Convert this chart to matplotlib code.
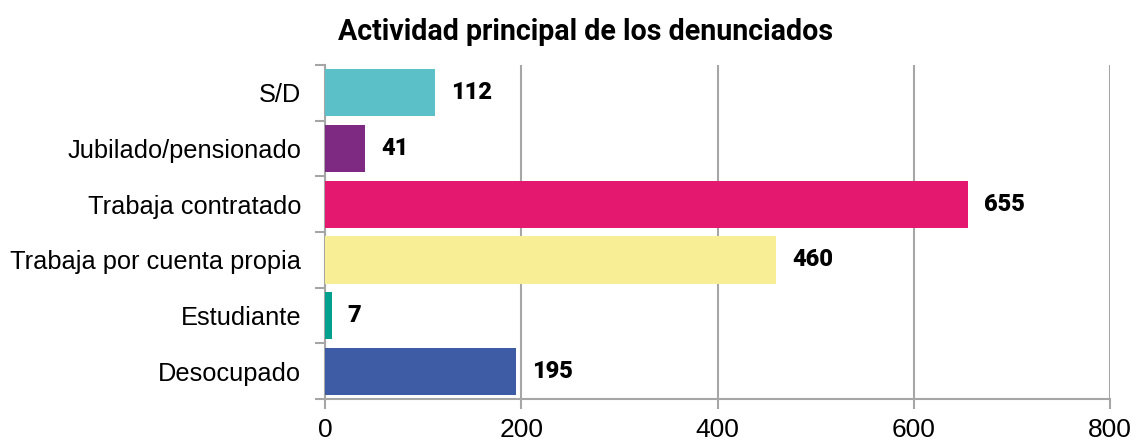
import matplotlib
matplotlib.use("Agg")
import matplotlib.pyplot as plt
import numpy as np

# Datos: actividad principal de los denunciados
categorias = ["Desocupado", "Estudiante", "Trabaja por cuenta propia",
              "Trabaja contratado", "Jubilado/pensionado", "S/D"]
valores = [195, 7, 460, 655, 41, 112]
colores = ["#3E5BA5", "#03A090", "#F8EE95", "#E5186F", "#7F2A82", "#5CC0C8"]
ticks_x = [0, 200, 400, 600, 800]

plt.rcParams['font.family'] = ['Liberation Sans', 'DejaVu Sans']

fig = plt.figure(figsize=(11.37, 4.41), dpi=100)
ax = fig.add_axes([0.2858, 0.0952, 0.6905, 0.7574])

y = np.arange(len(categorias))
ax.barh(y, valores, height=0.85, color=colores, zorder=3)

for yi, v in zip(y, valores):
    ax.annotate(str(v), (v, yi), xytext=(11.5, 0), textcoords="offset points",
                va="center", ha="left", fontsize=17, fontweight="heavy",
                family="Roboto")

ax.set_xlim(0, 800)
ax.set_ylim(-0.5, len(categorias) - 0.5)
ax.set_xticks(ticks_x)
ax.set_xticklabels([str(t) for t in ticks_x], fontsize=19)
ax.set_yticks(y)
ax.set_yticklabels(categorias, fontsize=18.3)
ax.set_yticks(np.arange(-0.5, len(categorias)), minor=True)

ax.grid(axis="x", color="#A6A6A6", linewidth=1.5, zorder=0)
for s in ["top", "right"]:
    ax.spines[s].set_visible(False)
for s in ["left", "bottom"]:
    ax.spines[s].set_color("#A6A6A6")
    ax.spines[s].set_linewidth(1.5)

ax.tick_params(axis="y", which="major", length=0, pad=17)
ax.tick_params(axis="y", which="minor", length=7, color="#A6A6A6", width=1.5)
ax.tick_params(axis="x", length=7, color="#A6A6A6", width=1.5, pad=7)

fig.text(586 / 1137, 1 - 40 / 441, "Actividad principal de los denunciados",
         ha="center", va="baseline", fontsize=20.6, fontweight="bold",
         family="Roboto")

fig.savefig("out.png", dpi=100)
